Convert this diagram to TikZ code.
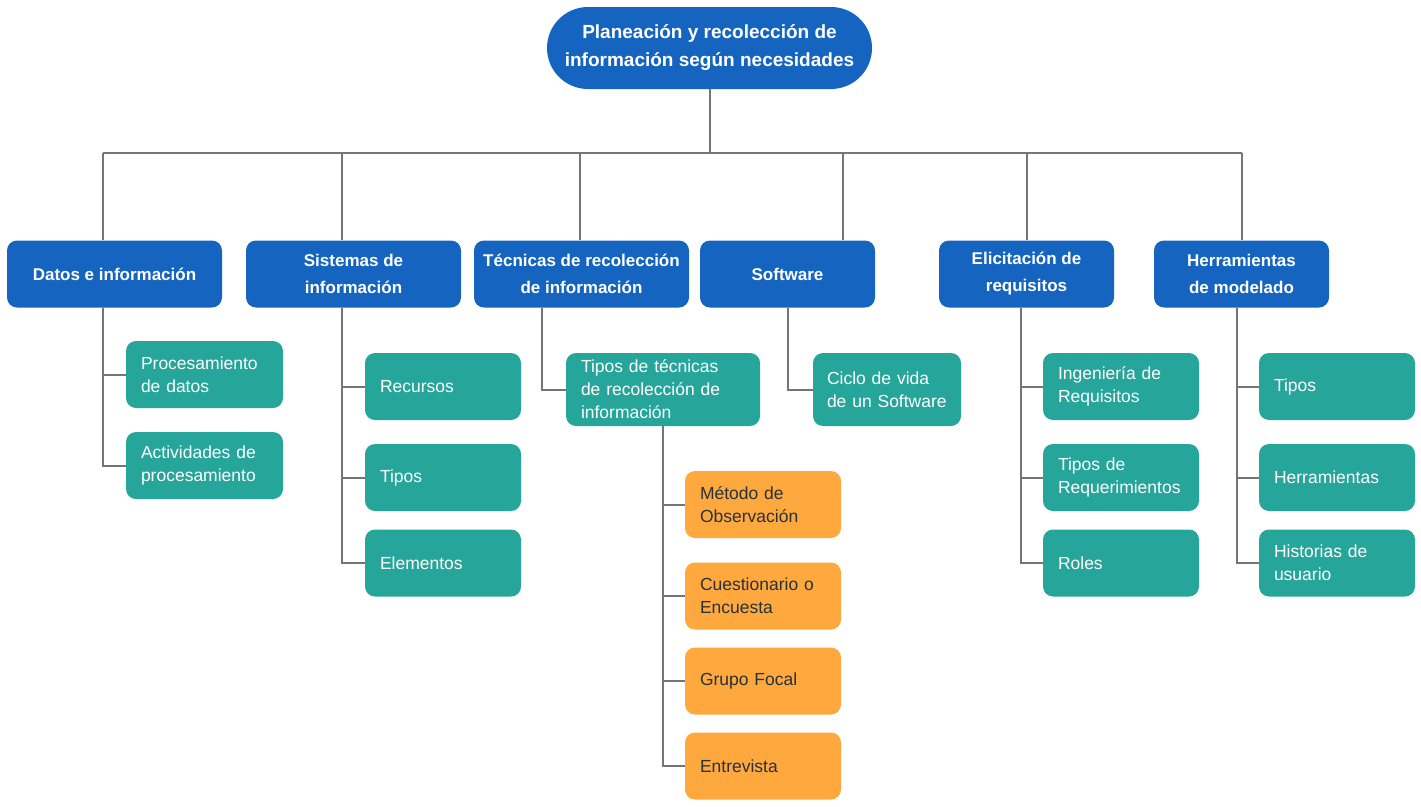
\documentclass[tikz,border=0pt]{standalone}
\usepackage{fontspec}
\setmainfont{Liberation Sans}
\usepackage{tikz}
\usetikzlibrary{positioning}
\hyphenpenalty=10000
\definecolor{azulc}{HTML}{1565C0}
\definecolor{verdec}{HTML}{26A69A}
\definecolor{naranjac}{HTML}{FFA83E}
\definecolor{textoosc}{HTML}{263238}
\definecolor{lineac}{HTML}{757575}
\tikzset{
  caja/.style={rounded corners=10pt, inner ysep=0pt, minimum height=67pt},
  azul/.style={caja, fill=azulc, text=white, align=center, minimum width=#1,
    font=\fontsize{17}{27}\selectfont\bfseries},
  azul/.default=175pt,
  verde/.style={caja, fill=verdec, text=white, align=left, inner xsep=15pt,
    text width=#1, font=\fontsize{17.5}{23}\selectfont},
  verde/.default=126pt,
  naranja/.style={caja, fill=naranjac, text=textoosc, align=left, inner xsep=15pt,
    text width=126pt, font=\fontsize{17.5}{23}\selectfont},
  conector/.style={draw=lineac, line width=2pt},
}

\begin{document}
\begin{tikzpicture}[x=1pt,y=-1pt]
        \useasboundingbox (0,0) rectangle (1421,806);
        % Nodo principal
        \node[fill=azulc, text=white, rounded corners=41pt, minimum width=325pt, minimum height=82pt,
          align=center, font=\fontsize{19}{28}\selectfont\bfseries] (raiz) at (709.5,48)
          {Planeación y recolección de\\información según necesidades};
        % Primer nivel
        \node[azul=215pt] (datos) at (114.5,274) {Datos e información};
        \node[azul=215pt] (sist) at (353.5,274) {Sistemas de\\información};
        \node[azul=215pt] (tec) at (581.5,274) {Técnicas de recolección\\de información};
        \node[azul] (soft) at (787.5,274) {Software};
        \node[azul] (elic) at (1026.5,274) {Elicitación de\\requisitos};
        \node[azul] (herr) at (1241.5,274) {Herramientas\\de modelado};
        % Segundo nivel
        \node[verde=127pt] (proc) at (204.5,374.5) {Procesamiento\\de datos};
        \node[verde=127pt] (acti) at (204.5,465.5) {Actividades de\\procesamiento};
        \node[verde] (recu) at (443,386.5) {Recursos};
        \node[verde] (tiposa) at (443,477.5) {Tipos};
        \node[verde] (elem) at (443,563) {Elementos};
        \node[verde=164pt, minimum height=73pt] (tiptec) at (663,389.5)
          {Tipos de técnicas\\de recolección de\\información};
        \node[verde=120pt, inner xsep=14pt, minimum height=73pt] (ciclo) at (887,389.5)
          {Ciclo de vida\\de un Software};
        \node[verde] (inge) at (1121,386.5) {Ingeniería de\\Requisitos};
        \node[verde] (tipreq) at (1121,477.5) {Tipos de\\Requerimientos};
        \node[verde] (roles) at (1121,563) {Roles};
        \node[verde] (tiposb) at (1337,386.5) {Tipos};
        \node[verde] (herrs) at (1337,477.5) {Herramientas};
        \node[verde] (hist) at (1337,563) {Historias de\\usuario};
        % Tercer nivel
        \node[naranja] (obse) at (763,504.5) {Método de\\Observación};
        \node[naranja] (cues) at (763,596) {Cuestionario o\\Encuesta};
        \node[naranja] (grupo) at (763,681) {Grupo Focal};
        \node[naranja] (entr) at (763,766) {Entrevista};
        % Conectores
        \coordinate (bus) at (0,153);
        \coordinate (d1) at ([xshift=96pt]datos.north west);
        \coordinate (d2) at ([xshift=96pt]sist.north west);
        \coordinate (d3) at ([xshift=106pt]tec.north west);
        \coordinate (d4) at ([xshift=143pt]soft.north west);
        \coordinate (d5) at ([xshift=88pt]elic.north west);
        \coordinate (d6) at ([xshift=88pt]herr.north west);
        \draw[conector] (raiz.south) -- (raiz.south |- bus);
        \draw[conector] (d1 |- bus) -- (d6 |- bus);
        \foreach \d in {d1,d2,d3,d4,d5,d6}
            \draw[conector] (\d) -- (\d |- bus);
        \coordinate (b1) at ([xshift=96pt]datos.south west);
        \coordinate (b2) at ([xshift=96pt]sist.south west);
        \coordinate (b3) at ([xshift=68pt]tec.south west);
        \coordinate (b4) at ([xshift=88pt]soft.south west);
        \coordinate (b5) at ([xshift=82pt]elic.south west);
        \coordinate (b6) at ([xshift=83pt]herr.south west);
        \coordinate (b7) at ([xshift=97pt]tiptec.south west);
        \foreach \h in {proc,acti}
            \draw[conector] (b1) |- (\h.west);
        \foreach \h in {recu,tiposa,elem}
            \draw[conector] (b2) |- (\h.west);
        \draw[conector] (b3) |- (tiptec.west);
        \draw[conector] (b4) |- (ciclo.west);
        \foreach \h in {inge,tipreq,roles}
            \draw[conector] (b5) |- (\h.west);
        \foreach \h in {tiposb,herrs,hist}
            \draw[conector] (b6) |- (\h.west);
        \foreach \h in {obse,cues,grupo,entr}
            \draw[conector] (b7) |- (\h.west);
\end{tikzpicture}
\end{document}
